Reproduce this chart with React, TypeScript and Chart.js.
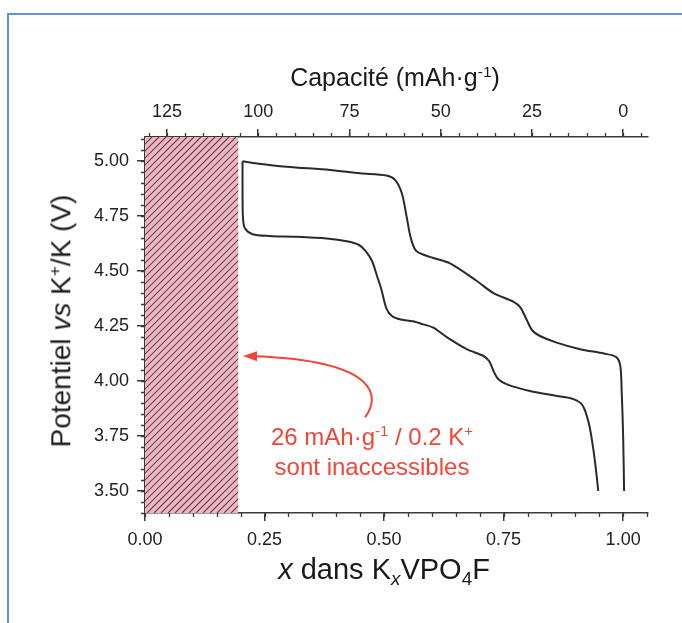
import React, { useEffect, useRef } from 'react';
import { Chart, registerables } from 'chart.js';

Chart.register(...registerables);

// ---- data (x in KxVPO4F, potential in V) ----
const chargeX = [1.002, 1.0, 0.997, 0.994, 0.985, 0.96, 0.91, 0.861, 0.826, 0.81, 0.798, 0.785, 0.771, 0.729, 0.694, 0.638, 0.603, 0.568, 0.556, 0.547, 0.537, 0.523, 0.505, 0.45, 0.387, 0.296, 0.234, 0.204];
const chargeV = [3.5, 3.75, 3.95, 4.07, 4.11, 4.125, 4.145, 4.175, 4.205, 4.23, 4.28, 4.335, 4.36, 4.4, 4.455, 4.535, 4.56, 4.59, 4.65, 4.75, 4.855, 4.915, 4.935, 4.945, 4.96, 4.975, 4.99, 5.0];

const dischargeX = [0.204, 0.204, 0.205, 0.209, 0.225, 0.26, 0.317, 0.38, 0.422, 0.447, 0.462, 0.475, 0.485, 0.494, 0.505, 0.517, 0.535, 0.56, 0.582, 0.603, 0.631, 0.673, 0.708, 0.72, 0.73, 0.739, 0.757, 0.805, 0.861, 0.896, 0.915, 0.928, 0.937, 0.943, 0.948];
const dischargeV = [5.0, 4.85, 4.74, 4.695, 4.668, 4.66, 4.656, 4.648, 4.636, 4.62, 4.59, 4.545, 4.48, 4.42, 4.33, 4.295, 4.28, 4.272, 4.258, 4.243, 4.2, 4.145, 4.114, 4.09, 4.04, 4.008, 3.985, 3.955, 3.932, 3.918, 3.89, 3.81, 3.7, 3.6, 3.5];

// ---- axes ----
const xTicks = [0, 0.25, 0.5, 0.75, 1.0];
const capacityTicks = [125, 100, 75, 50, 25, 0];
const vTicks = [3.5, 3.75, 4.0, 4.25, 4.5, 4.75, 5.0];
const X_MIN = 0;
const X_MAX = 1.052;
const V_MIN = 3.4;
const V_MAX = 5.11;
const THEORETICAL_CAPACITY = 131; // mAh/g for x = 0 -> 1
const X_MINOR_STEP = 0.05;
const CAP_MINOR_STEP = 5;
const V_MINOR_STEP = 0.05;

// inaccessible region
const inaccessibleFrom = 0;
const inaccessibleTo = 0.195;

// arrow annotation (data coordinates)
const arrowStart = { x: 0.4603, y: 3.835 };
const arrowC1 = { x: 0.4916, y: 3.926 };
const arrowC2 = { x: 0.4916, y: 4.0895 };
const arrowEnd = { x: 0.2343, y: 4.113 };
const arrowTip = { x: 0.205, y: 4.1145 };

const FONT = "'Liberation Sans', Arial, Helvetica, sans-serif";
const AXIS_COLOR = '#3a3a3a';
const RED = '#ef4638';

const hatchPlugin = {
  id: 'hatch',
  beforeDatasetsDraw(chart: any) {
    const { ctx, chartArea } = chart;
    const xs = chart.scales.x;
    const x0 = xs.getPixelForValue(inaccessibleFrom);
    const x1 = xs.getPixelForValue(inaccessibleTo);
    const top = chartArea.top;
    const bottom = chartArea.bottom;
    ctx.save();
    ctx.beginPath();
    ctx.rect(x0, top, x1 - x0, bottom - top);
    ctx.clip();
    ctx.fillStyle = '#f1b6c4';
    ctx.fillRect(x0, top, x1 - x0, bottom - top);
    ctx.strokeStyle = 'rgba(70,55,60,0.85)';
    ctx.lineWidth = 1.2;
    const h = bottom - top;
    ctx.beginPath();
    for (let k = x0 - h; k < x1 + 10; k += 7) {
      ctx.moveTo(k, bottom);
      ctx.lineTo(k + h, top);
    }
    ctx.stroke();
    ctx.restore();
  },
};

const arrowPlugin = {
  id: 'arrow',
  afterDatasetsDraw(chart: any) {
    const { ctx } = chart;
    const xs = chart.scales.x;
    const ys = chart.scales.y;
    const p = (pt: { x: number; y: number }) => [xs.getPixelForValue(pt.x), ys.getPixelForValue(pt.y)];
    const [sx, sy] = p(arrowStart);
    const [c1x, c1y] = p(arrowC1);
    const [c2x, c2y] = p(arrowC2);
    const [ex, ey] = p(arrowEnd);
    const [tx, ty] = p(arrowTip);
    ctx.save();
    ctx.strokeStyle = RED;
    ctx.fillStyle = RED;
    ctx.lineWidth = 2;
    ctx.beginPath();
    ctx.moveTo(sx, sy);
    ctx.bezierCurveTo(c1x, c1y, c2x, c2y, ex, ey);
    ctx.stroke();
    ctx.beginPath();
    ctx.moveTo(tx, ty);
    ctx.lineTo(ex, ey - 5);
    ctx.lineTo(ex, ey + 5);
    ctx.closePath();
    ctx.fill();
    ctx.restore();
  },
};

const minorTickPlugin = {
  id: 'minorTicks',
  afterDraw(chart: any) {
    const { ctx, chartArea } = chart;
    const xs = chart.scales.x;
    const x2 = chart.scales.x2;
    const ys = chart.scales.y;
    const len = 4;
    ctx.save();
    ctx.strokeStyle = AXIS_COLOR;
    ctx.lineWidth = 1.3;
    ctx.beginPath();
    for (let v = X_MIN; v <= X_MAX + 1e-9; v += X_MINOR_STEP) {
      const px = Math.round(xs.getPixelForValue(v)) + 0.5;
      ctx.moveTo(px, chartArea.bottom);
      ctx.lineTo(px, chartArea.bottom + len);
    }
    for (let c = -5; c <= THEORETICAL_CAPACITY; c += CAP_MINOR_STEP) {
      const px = Math.round(x2.getPixelForValue(c)) + 0.5;
      if (px < chartArea.left || px > chartArea.right) continue;
      ctx.moveTo(px, chartArea.top);
      ctx.lineTo(px, chartArea.top - len);
    }
    for (let v = V_MIN; v <= V_MAX + 1e-9; v += V_MINOR_STEP) {
      const py = Math.round(ys.getPixelForValue(v)) + 0.5;
      ctx.moveTo(chartArea.left, py);
      ctx.lineTo(chartArea.left - len, py);
    }
    ctx.stroke();
    ctx.restore();
  },
};

const toPoints = (xs: number[], ys: number[]) => xs.map((x, i) => ({ x, y: ys[i] }));

const tickFont = { family: FONT, size: 18 };
const gridOpts = { drawOnChartArea: false, drawTicks: true, tickLength: 8, color: AXIS_COLOR, lineWidth: 1.5 };
const borderOpts = { display: true, color: AXIS_COLOR, width: 1.5 };

export default function App() {
  const canvasRef = useRef<HTMLCanvasElement | null>(null);

  useEffect(() => {
    if (!canvasRef.current) return;
    const chart = new Chart(canvasRef.current, {
      type: 'line',
      data: {
        datasets: [
          {
            label: 'Charge',
            data: toPoints(chargeX, chargeV),
            borderColor: '#2a2a2a',
            borderWidth: 2,
            pointRadius: 0,
            tension: 0.3,
            fill: false,
          },
          {
            label: 'Décharge',
            data: toPoints(dischargeX, dischargeV),
            borderColor: '#2a2a2a',
            borderWidth: 2,
            pointRadius: 0,
            tension: 0.3,
            fill: false,
          },
        ],
      },
      options: {
        animation: false,
        responsive: false,
        layout: { padding: { left: 0, top: 0, right: 34, bottom: 0 } },
        plugins: { legend: { display: false }, tooltip: { enabled: false } },
        scales: {
          x: {
            type: 'linear',
            position: 'bottom',
            min: X_MIN,
            max: X_MAX,
            afterBuildTicks: (s: any) => {
              s.ticks = xTicks.map((v) => ({ value: v }));
            },
            afterFit: (s: any) => {
              s.height = 110;
            },
            ticks: {
              font: tickFont,
              color: '#222',
              padding: 8,
              maxRotation: 0,
              callback: (v: any) => Number(v).toFixed(2),
            },
            grid: gridOpts,
            border: borderOpts,
          },
          x2: {
            type: 'linear',
            position: 'top',
            reverse: true,
            min: THEORETICAL_CAPACITY * (1 - X_MAX),
            max: THEORETICAL_CAPACITY * (1 - X_MIN),
            afterBuildTicks: (s: any) => {
              s.ticks = capacityTicks.map((v) => ({ value: v }));
            },
            afterFit: (s: any) => {
              s.height = 137;
            },
            ticks: {
              font: tickFont,
              color: '#222',
              padding: 6,
              maxRotation: 0,
              callback: (v: any) => String(v),
            },
            grid: gridOpts,
            border: borderOpts,
          },
          y: {
            type: 'linear',
            position: 'left',
            min: V_MIN,
            max: V_MAX,
            afterBuildTicks: (s: any) => {
              s.ticks = vTicks.map((v) => ({ value: v }));
            },
            afterFit: (s: any) => {
              s.width = 145;
            },
            ticks: {
              font: tickFont,
              color: '#222',
              padding: 8,
              callback: (v: any) => Number(v).toFixed(2),
            },
            grid: gridOpts,
            border: borderOpts,
          },
        },
      },
      plugins: [hatchPlugin, arrowPlugin, minorTickPlugin],
    } as any);
    return () => chart.destroy();
  }, []);

  const textBase: React.CSSProperties = {
    position: 'absolute',
    fontFamily: FONT,
    whiteSpace: 'nowrap',
    color: '#1a1a1a',
    lineHeight: 1,
  };
  const sup: React.CSSProperties = { fontSize: '0.62em' };
  const sub: React.CSSProperties = { fontSize: '0.65em' };

  return (
    <div style={{ position: 'fixed', left: 0, top: 0, width: 682, height: 623, background: '#fff', overflow: 'hidden' }}>
      <div
        style={{
          position: 'absolute',
          left: 7,
          top: 13,
          width: 700,
          height: 650,
          borderLeft: '2px solid #5b93d4',
          borderTop: '2px solid #5b93d4',
        }}
      />
      <canvas ref={canvasRef} width={682} height={623} style={{ position: 'absolute', left: 0, top: 0 }} />
      <div style={{ ...textBase, left: 395, top: 77, transform: 'translate(-50%, -50%)', fontSize: 25 }}>
        Capacité (mAh·g<sup style={sup}>-1</sup>)
      </div>
      <div
        style={{
          ...textBase,
          left: 61,
          top: 321,
          transform: 'translate(-50%, -50%) rotate(-90deg)',
          fontSize: 28,
        }}
      >
        Potentiel <i>vs</i> K<sup style={sup}>+</sup>/K (V)
      </div>
      <div style={{ ...textBase, left: 384, top: 572, transform: 'translate(-50%, -50%)', fontSize: 29 }}>
        <i>x</i> dans K<sub style={sub}><i>x</i></sub>VPO<sub style={sub}>4</sub>F
      </div>
      <div
        style={{
          ...textBase,
          left: 372,
          top: 452,
          transform: 'translate(-50%, -50%)',
          fontSize: 24,
          color: RED,
          textAlign: 'center',
          lineHeight: 1.25,
        }}
      >
        26 mAh·g<sup style={sup}>-1</sup> / 0.2 K<sup style={sup}>+</sup>
        <br />
        sont inaccessibles
      </div>
    </div>
  );
}
